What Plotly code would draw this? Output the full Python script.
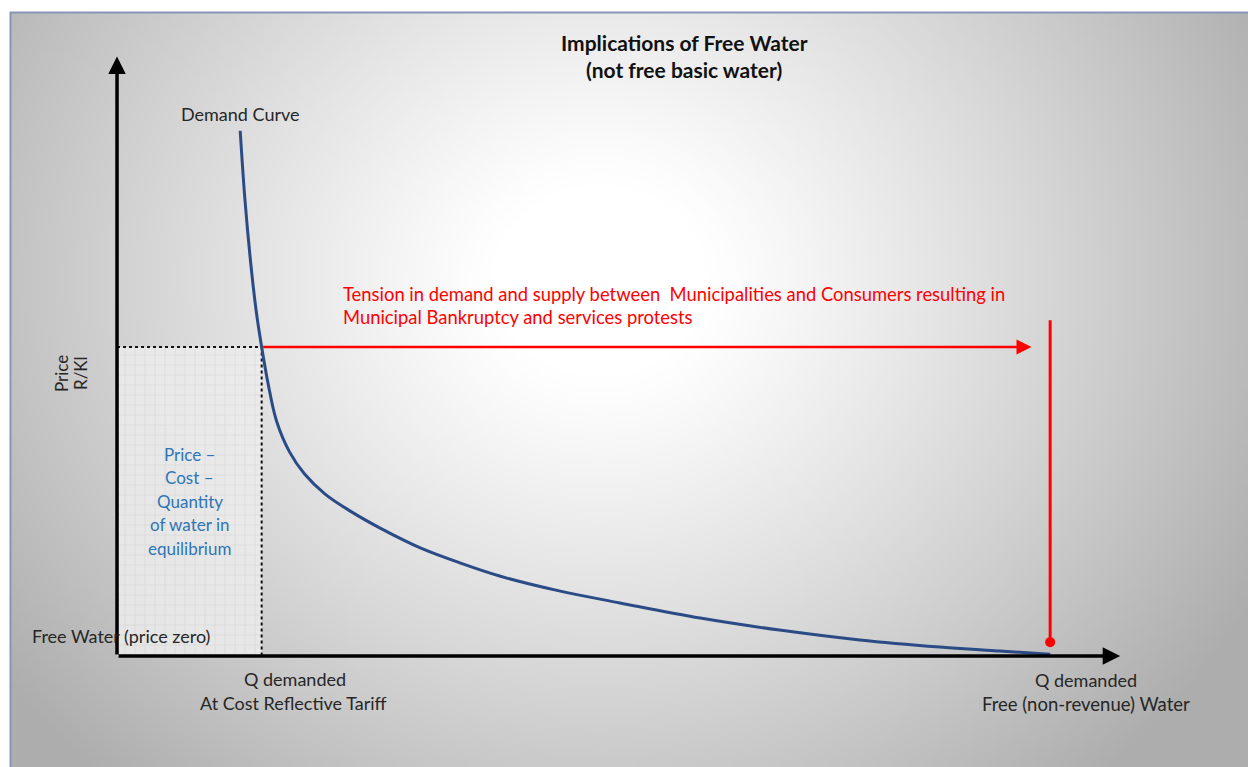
import base64
import struct
import zlib

import numpy as np
import plotly.graph_objects as go

W, H = 1248, 767

# Demand schedule: quantity of water (kl) against price (R/kl)
quantity = [13.2, 13.7, 14.3, 14.9, 15.5, 16.2, 17.1, 18.5, 20.1, 22.3, 25.0, 28.2,
            32.5, 36.8, 41.0, 47.5, 53.9, 62.5, 71.0, 79.6, 88.2, 94.6, 100.0]
price = [170, 148, 128, 112, 100, 88, 76, 66.0, 58.9, 52.4, 46.9, 41.4,
         35.0, 30.1, 25.9, 21.0, 17.2, 12.3, 8.4, 5.2, 2.9, 1.6, 0.6]

# Key points on the diagram
q_equilibrium = 15.5      # Q demanded at cost reflective tariff
p_equilibrium = 100       # cost reflective price
q_free = 100              # Q demanded when water is free
tension_q_end = 98        # end of the tension arrow
tension_p_top = 108.7     # top of the free-water marker line
tension_p_bottom = 4.5    # dot at price zero
axis_q_max = 107.5
axis_p_max = 194

# Labels
title_lines = ["Implications of Free Water", "(not free basic water)"]
equilibrium_lines = ["Price \u2013", "Cost \u2013", "Quantity", "of water in", "equilibrium"]
tension_lines = ["Tension in demand and supply between  Municipalities and Consumers resulting in",
                 "Municipal Bankruptcy and services protests"]

FONT = "Lato"
DARK = "#262626"
RED = "#ff0000"
BLUE_TEXT = "#2e75b6"
CURVE = "#2b4b86"


def png_gray(arr):
    h, w = arr.shape
    raw = b"".join(b"\x00" + arr[i].tobytes() for i in range(h))

    def chunk(tag, data):
        body = tag + data
        return struct.pack(">I", len(data)) + body + struct.pack(">I", zlib.crc32(body) & 0xFFFFFFFF)

    ihdr = struct.pack(">IIBBBBB", w, h, 8, 0, 0, 0, 0)
    return (b"\x89PNG\r\n\x1a\n" + chunk(b"IHDR", ihdr)
            + chunk(b"IDAT", zlib.compress(raw, 9)) + chunk(b"IEND", b""))


# Radial grey backdrop of the slide panel
x0p, y0p = 10, 12
gw, gh = (W - x0p) // 4, (H - y0p) // 4
gx = x0p + (np.arange(gw) + 0.5) * (W - x0p) / gw
gy = y0p + (np.arange(gh) + 0.5) * (H - y0p) / gh
GX, GY = np.meshgrid(gx, gy)
dist = np.sqrt((GX - 600) ** 2 + ((GY - 280) / 0.9) ** 2)
shade = 255 - 82 * np.clip((dist - 110) / 640, 0, 1) ** 1.1
backdrop = "data:image/png;base64," + base64.b64encode(png_gray(shade.astype(np.uint8))).decode()

# Axis ranges chosen so the origin sits at the slide's axis corner
x_range = [-12.54, 121.2]
y_range = [-35.9, 212.3]


def at(xp, yp):
    return dict(x=xp / W, y=1 - yp / H, xref="paper", yref="paper")


fig = go.Figure()

# Shaded equilibrium block
fig.add_trace(go.Scatter(
    x=[0, 0, q_equilibrium, q_equilibrium, 0],
    y=[0, p_equilibrium, p_equilibrium, 0, 0],
    mode="lines", fill="toself", line=dict(width=0),
    fillcolor="rgba(232,232,232,0.85)",
    fillpattern=dict(shape="+", size=10, solidity=0.12, fgcolor="#c4c4c4",
                     bgcolor="rgba(236,236,236,0.85)"),
    hoverinfo="skip", showlegend=False,
))

# Dotted equilibrium guides
fig.add_trace(go.Scatter(
    x=[0, q_equilibrium, q_equilibrium],
    y=[p_equilibrium, p_equilibrium, 0],
    mode="lines", line=dict(color="#111111", width=2, dash="dot"),
    hoverinfo="skip", showlegend=False,
))

# Demand curve
fig.add_trace(go.Scatter(
    x=quantity, y=price, mode="lines",
    line=dict(color=CURVE, width=3, shape="spline", smoothing=1.0),
    hoverinfo="skip", showlegend=False,
))

# Free-water quantity marker
fig.add_trace(go.Scatter(
    x=[q_free, q_free], y=[tension_p_top, tension_p_bottom], mode="lines",
    line=dict(color=RED, width=3), hoverinfo="skip", showlegend=False,
))
fig.add_trace(go.Scatter(
    x=[q_free], y=[tension_p_bottom], mode="markers",
    marker=dict(color=RED, size=10), hoverinfo="skip", showlegend=False,
))

annotations = []

# Axis arrows
annotations.append(dict(x=0, y=axis_p_max, ax=0, ay=0, xref="x", yref="y", axref="x", ayref="y",
                        text="", showarrow=True, arrowhead=2, arrowsize=1, arrowwidth=3.5,
                        arrowcolor="#000000", standoff=0, startstandoff=0))
annotations.append(dict(x=axis_q_max, y=0, ax=0, ay=0, xref="x", yref="y", axref="x", ayref="y",
                        text="", showarrow=True, arrowhead=2, arrowsize=1, arrowwidth=3.5,
                        arrowcolor="#000000", standoff=0, startstandoff=0))
# Tension arrow
annotations.append(dict(x=tension_q_end, y=p_equilibrium, ax=q_equilibrium, ay=p_equilibrium,
                        xref="x", yref="y", axref="x", ayref="y",
                        text="", showarrow=True, arrowhead=2, arrowsize=1.2, arrowwidth=2.5,
                        arrowcolor=RED, standoff=0, startstandoff=0))


def label(text, xp, yp, size=18, color=DARK, xanchor="center", bold=False, angle=0):
    t = f"<b>{text}</b>" if bold else text
    annotations.append(dict(**at(xp, yp), text=t, showarrow=False, xanchor=xanchor,
                            yanchor="middle", textangle=angle,
                            font=dict(family=FONT, size=size, color=color)))


label(title_lines[0], 684, 42, size=21, color="#111111", bold=True)
label(title_lines[1], 684, 70, size=21, color="#111111", bold=True)
label("Demand Curve", 240, 114)
label("Price", 62, 373, size=17, angle=-90)
label("R/Kl", 81, 373, size=17, angle=-90)
for i, line in enumerate(equilibrium_lines):
    label(line, 190, 454 + i * 23.5, size=17, color=BLUE_TEXT)
label("Free Water (price zero)", 30, 636, xanchor="left")
label("Q demanded", 295, 679)
label("At Cost Reflective Tariff", 293, 703)
label("Q demanded", 1086, 680)
label("Free (non-revenue) Water", 1086, 704, size=18.5)
for i, line in enumerate(tension_lines):
    label(line, 341, 294 + i * 23, size=18.4, color=RED, xanchor="left")

# Slide frame edges
shapes = [
    dict(type="line", xref="paper", yref="paper", x0=x0p / W, x1=1, y0=1 - 12.5 / H, y1=1 - 12.5 / H,
         line=dict(color="#8795b6", width=2)),
    dict(type="line", xref="paper", yref="paper", x0=10.5 / W, x1=10.5 / W, y0=0, y1=1 - 12 / H,
         line=dict(color="#8795b6", width=2)),
]

fig.update_layout(
    width=W, height=H,
    margin=dict(l=0, r=0, t=0, b=0),
    paper_bgcolor="#ffffff",
    plot_bgcolor="rgba(0,0,0,0)",
    xaxis=dict(range=x_range, visible=False, fixedrange=True),
    yaxis=dict(range=y_range, visible=False, fixedrange=True),
    images=[dict(source=backdrop, xref="paper", yref="paper", x=x0p / W, y=1 - y0p / H,
                 sizex=(W - x0p) / W, sizey=(H - y0p) / H, sizing="stretch",
                 xanchor="left", yanchor="top", layer="below")],
    annotations=annotations,
    shapes=shapes,
    showlegend=False,
)

fig.write_html("out.html")
